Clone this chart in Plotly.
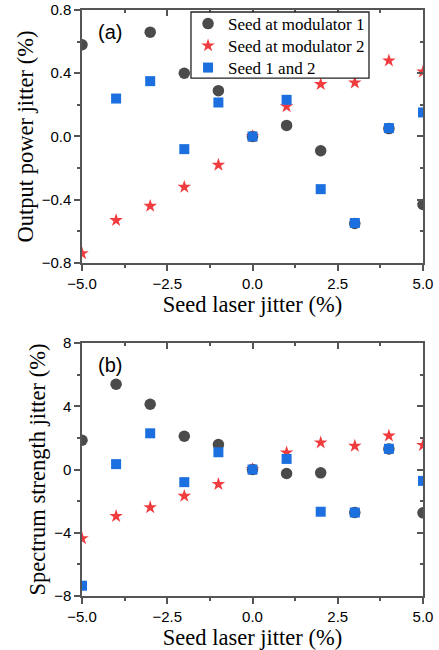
import plotly.graph_objects as go

# Seed laser jitter (%)
jitter = [-5, -4, -3, -2, -1, 0, 1, 2, 3, 4, 5]

# (a) Output power jitter (%)
power_mod1 = [0.58, None, 0.66, 0.40, 0.29, 0.0, 0.07, -0.09, -0.55, 0.05, -0.43]
power_mod2 = [-0.74, -0.53, -0.44, -0.32, -0.18, 0.0, 0.19, 0.33, 0.34, 0.48, 0.41]
power_both = [None, 0.24, 0.35, -0.08, 0.215, 0.0, 0.232, -0.333, -0.547, 0.053, 0.152]

# (b) Spectrum strength jitter (%)
spec_mod1 = [1.85, 5.39, 4.13, 2.10, 1.58, 0.0, -0.25, -0.21, -2.72, 1.30, -2.74]
spec_mod2 = [-4.36, -2.95, -2.40, -1.68, -0.93, 0.0, 1.07, 1.70, 1.49, 2.13, 1.54]
spec_both = [-7.35, 0.34, 2.29, -0.80, 1.09, 0.0, 0.67, -2.67, -2.72, 1.31, -0.72]

series_names = ["Seed at modulator 1", "Seed at modulator 2", "Seed 1 and 2"]
legend_ids = ["legend", "legend2", "legend3"]

GREY = "#4b4b4b"
RED = "#f03c3f"
BLUE = "#1b6fdf"
AXIS = "#555555"
SANS = "Liberation Sans"
SERIF = "Liberation Serif"

styles = [
    dict(symbol="circle", size=11.5, color=GREY),
    dict(symbol="star", size=10.2, color=RED),
    dict(symbol="square", size=10, color=BLUE),
]

fig = go.Figure()

for name, ys, st, lg in zip(series_names, [power_mod1, power_mod2, power_both], styles, legend_ids):
    fig.add_trace(go.Scatter(x=jitter, y=ys, mode="markers", name=name, legend=lg,
                             marker=dict(symbol=st["symbol"], size=st["size"], color=st["color"],
                                         line=dict(width=0)),
                             xaxis="x", yaxis="y"))

for name, ys, st in zip(series_names, [spec_mod1, spec_mod2, spec_both], styles):
    fig.add_trace(go.Scatter(x=jitter, y=ys, mode="markers", name=name, showlegend=False,
                             marker=dict(symbol=st["symbol"], size=st["size"], color=st["color"],
                                         line=dict(width=0)),
                             xaxis="x2", yaxis="y2"))

# empty traces so the top/right frame axes get drawn
for xa, ya in [("x3", "y3"), ("x4", "y4")]:
    fig.add_trace(go.Scatter(x=[], y=[], xaxis=xa, yaxis=ya, showlegend=False, hoverinfo="skip"))

tickfont = dict(family=SANS, size=15, color="black")
titlefont = dict(family=SERIF, size=22.5, color="black")

def main_x(anchor):
    return dict(anchor=anchor, domain=[0, 1], range=[-5, 5], tick0=-5, dtick=2.5,
                tickformat=".1f", showline=True, linecolor=AXIS, linewidth=1.5,
                ticks="outside", ticklen=6, tickwidth=1.5, tickcolor=AXIS,
                minor=dict(ticks="outside", ticklen=3, tickwidth=1.5, tickcolor=AXIS, dtick=1.25, tick0=-5),
                showgrid=False, zeroline=False, tickfont=tickfont, automargin=False,
                title=dict(text="Seed laser jitter (%)", font=titlefont, standoff=4))

def main_y(anchor, dom, rng, dtick, fmt, title):
    return dict(anchor=anchor, domain=dom, range=rng, tick0=rng[0], dtick=dtick,
                tickformat=fmt, showline=True, linecolor=AXIS, linewidth=1.5,
                ticks="outside", ticklen=6, tickwidth=1.5, tickcolor=AXIS,
                minor=dict(ticks="outside", ticklen=3, tickwidth=1.5, tickcolor=AXIS, dtick=dtick / 2, tick0=rng[0]),
                showgrid=False, zeroline=False, tickfont=tickfont, automargin=False,
                title=dict(text=title, font=titlefont, standoff=2))

def frame_x(over, anchor):
    return dict(overlaying=over, anchor=anchor, side="top", range=[-5, 5], tick0=-5, dtick=2.5,
                showline=True, linecolor=AXIS, linewidth=1.5, showticklabels=False,
                ticks="inside", ticklen=6, tickwidth=1.5, tickcolor=AXIS,
                minor=dict(ticks="inside", ticklen=3, tickwidth=1.5, tickcolor=AXIS, dtick=1.25, tick0=-5),
                showgrid=False, zeroline=False, automargin=False)

def frame_y(over, anchor, rng, dtick):
    return dict(overlaying=over, anchor=anchor, side="right", range=rng, tick0=rng[0], dtick=dtick,
                showline=True, linecolor=AXIS, linewidth=1.5, showticklabels=False,
                ticks="inside", ticklen=6, tickwidth=1.5, tickcolor=AXIS,
                minor=dict(ticks="inside", ticklen=3, tickwidth=1.5, tickcolor=AXIS, dtick=dtick / 2, tick0=rng[0]),
                showgrid=False, zeroline=False, automargin=False)

dom_a = [0.5683, 1.0]
dom_b = [0.0, 0.4317]

# one single-entry legend per series, stacked inside a shared framed box
legend_rows = [0.976, 0.9385, 0.901]
legend_cfg = {}
for lg, yrow in zip(legend_ids, legend_rows):
    legend_cfg[lg] = dict(x=0.311, y=yrow, xanchor="left", yanchor="middle",
                          bgcolor="rgba(0,0,0,0)", borderwidth=0,
                          font=dict(family=SERIF, size=17, color="black"),
                          itemwidth=30)

fig.update_layout(
    width=439, height=650,
    margin=dict(l=82, r=16, t=10, b=54, autoexpand=False),
    paper_bgcolor="white", plot_bgcolor="white",
    xaxis=main_x("y"),
    yaxis=main_y("x", dom_a, [-0.8, 0.8], 0.4, ".1f", "Output power jitter (%)"),
    xaxis2=main_x("y2"),
    yaxis2=main_y("x2", dom_b, [-8, 8], 4, "d", "Spectrum strength jitter (%)"),
    xaxis3=frame_x("x", "y"),
    yaxis3=frame_y("y", "x", [-0.8, 0.8], 0.4),
    xaxis4=frame_x("x2", "y2"),
    yaxis4=frame_y("y2", "x2", [-8, 8], 4),
    showlegend=True,
    **legend_cfg,
)

# legend frame
fig.add_shape(type="rect", xref="x domain", yref="y domain",
              x0=0.3196, x1=0.8416, y0=0.731, y1=0.992,
              fillcolor="white", line=dict(color="#222222", width=1.3), layer="above")

fig.add_annotation(text="(a)", xref="x domain", yref="y domain", x=0.04, y=0.965,
                   xanchor="left", yanchor="top", showarrow=False,
                   font=dict(family=SANS, size=20, color="black"))
fig.add_annotation(text="(b)", xref="x2 domain", yref="y2 domain", x=0.04, y=0.965,
                   xanchor="left", yanchor="top", showarrow=False,
                   font=dict(family=SANS, size=20, color="black"))

fig.write_html("out.html")
